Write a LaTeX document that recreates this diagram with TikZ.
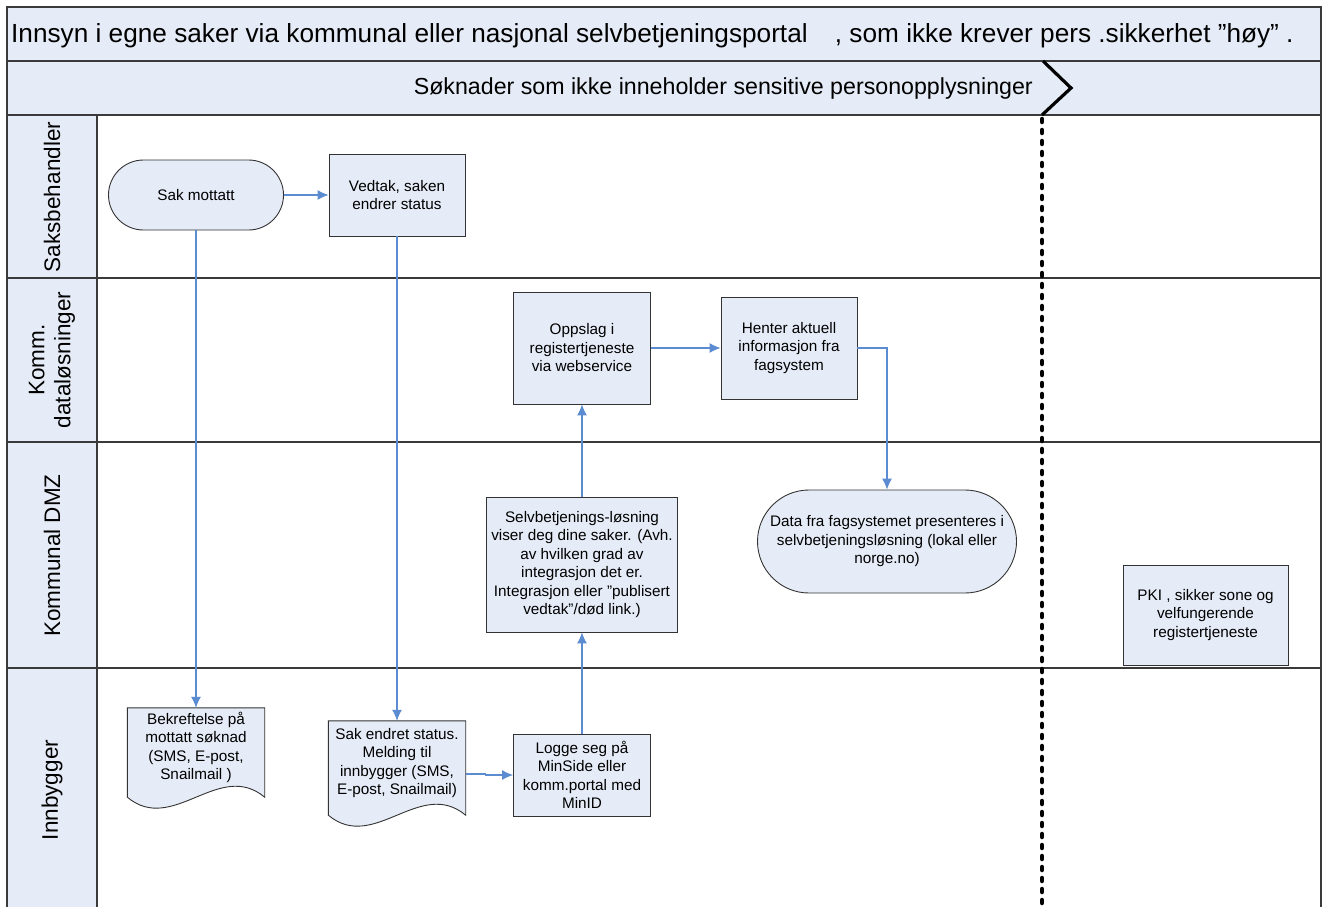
\documentclass[tikz,border=0pt]{standalone}
\usepackage{fontspec}
\setmainfont{Liberation Sans}
\usetikzlibrary{arrows.meta,calc,backgrounds}

\definecolor{lanefill}{HTML}{E6ECF7}
\definecolor{framecol}{HTML}{3A3A3A}
\definecolor{flowblue}{HTML}{5B8BD0}

\newcommand{\nodefont}{\fontsize{15.3}{18.5}\selectfont}

% document symbol: straight top and sides, wavy bottom edge below the node
\newcommand{\docoutline}[1]{%
  \draw[docline] (#1.north west) -- (#1.north east)
    -- ($(#1.south east)+(0,10)$)
    .. controls ($(#1.south east)+(-45.7,-28)$) and ($(#1.south west)+(45.7,48)$)
    .. ($(#1.south west)+(0,10)$) -- cycle;}

\begin{document}
\begin{tikzpicture}[x=1pt,y=-1pt,
  frame/.style={draw=framecol,line width=1.2pt},
  box/.style={draw=black!80,fill=lanefill,line width=0.9pt,inner sep=0pt,
    align=center,font=\nodefont},
  term/.style={box,rounded corners=#1},
  doctext/.style={inner sep=0pt,align=center,font=\nodefont},
  docline/.style={draw=black!80,fill=lanefill,line width=0.9pt},
  flow/.style={draw=flowblue,line width=1.1pt},
  flowarrow/.style={flow,-{Latex[length=11pt,width=10pt]}},
  lanelabel/.style={rotate=90,align=center,inner sep=0pt,
    font=\fontsize{22.5}{26}\selectfont},
]
\useasboundingbox (0,0) rectangle (1327,907);

% pool background and lane label column
\begin{scope}[on background layer]
  \fill[white] (0,0) rectangle (1327,907);
  \fill[lanefill] (7,7) rectangle (1321,115);
  \fill[lanefill] (7,115) rectangle (97,907);
\end{scope}

% pool frame and lane separators
\draw[frame] (7,907) -- (7,7) -- (1321,7) -- (1321,907);
\draw[frame] (7,61) -- (1321,61);
\draw[frame] (7,115) -- (1321,115);
\draw[frame] (7,278) -- (1321,278);
\draw[frame] (7,442) -- (1321,442);
\draw[frame] (7,668) -- (1321,668);
\draw[frame] (97,115) -- (97,907);

% title and phase header
\node[anchor=west,inner sep=0pt,font=\fontsize{26.2}{30}\selectfont] (title) at (11,35.5)
  {Innsyn i egne saker via kommunal eller nasjonal selvbetjeningsportal\hspace{20pt} , som ikke krever pers .sikkerhet ”høy” .};
\node[anchor=east,inner sep=0pt,font=\fontsize{23.2}{27}\selectfont] (phase) at (1033,89)
  {Søknader som ikke inneholder sensitive personopplysninger};

% phase separator
\coordinate (chevtop) at (1043,61);
\coordinate (chevtip) at (1071,88);
\coordinate (chevbot) at (1042,115);
\coordinate (zoneend) at (1042,907);
\draw[line width=3.2pt,line join=miter] (chevtop) -- (chevtip) -- (chevbot);
\draw[line width=4.5pt,line cap=round,dash pattern=on 3pt off 8pt]
  ($(chevbot)+(0,4)$) -- (zoneend);

% lane labels
\node[lanelabel] (l1) at (52,197) {Saksbehandler};
\node[lanelabel] (l2) at (52,360) {Komm.\\datal\o sninger};
\node[lanelabel] (l3) at (52,555.5) {Kommunal DMZ};
\node[lanelabel] (l4) at (52,790) {Innbygger};

% process steps
\node[term=35,minimum width=175pt,minimum height=70pt] (mottatt) at (196,195) {Sak mottatt};
\node[box,minimum width=136pt,minimum height=82pt] (vedtak) at (397,195) {Vedtak, saken\\endrer status};
\node[box,minimum width=137pt,minimum height=112pt] (oppslag) at (582,348) {Oppslag i\\registertjeneste\\via webservice};
\node[box,minimum width=136pt,minimum height=102pt] (henter) at (789,348) {Henter aktuell\\informasjon fra\\fagsystem};
\node[term=51.5,minimum width=259pt,minimum height=103pt] (data) at (887,541.5)
  {Data fra fagsystemet presenteres i\\selvbetjeningsløsning (lokal eller\\norge.no)};
\node[box,minimum width=191pt,minimum height=135pt] (selv) at (582,564.5)
  {Selvbetjenings-løsning\\viser deg dine saker. (Avh.\\av hvilken grad av\\integrasjon det er.\\Integrasjon eller ”publisert\\vedtak”/død link.)};
\node[box,minimum width=137pt,minimum height=82pt] (logge) at (582,775)
  {Logge seg på\\MinSide eller\\komm.portal med\\MinID};
\node[box,minimum width=165pt,minimum height=100pt] (pki) at (1205.5,615)
  {PKI , sikker sone og\\velfungerende\\registertjeneste};

% documents
\node[doctext,minimum width=137pt,minimum height=79pt] (bekreft) at (196,747.5)
  {Bekreftelse på\\mottatt søknad\\(SMS, E-post,\\Snailmail )};
\node[doctext,minimum width=137pt,minimum height=84pt] (endret) at (397,763)
  {Sak endret status.\\Melding til\\innbygger (SMS,\\E-post, Snailmail)};
\begin{scope}[on background layer]
  \docoutline{bekreft}
  \docoutline{endret}
\end{scope}

% flows
\draw[flowarrow] (mottatt.east) -- (vedtak.west);
\draw[flowarrow] (mottatt.south) -- (bekreft.north);
\draw[flowarrow] (vedtak.south) -- (endret.north);
\draw[flowarrow] (oppslag.east) -- (henter.west);
\draw[flowarrow] (henter.east) -| (data.north);
\draw[flowarrow] (selv.north) -- (oppslag.south);
\draw[flowarrow] (logge.north) -- (selv.south);
\draw[flowarrow] ($(endret.east)+(0,11)$) -- ++(20,0) |- (logge.west);
\end{tikzpicture}
\end{document}
